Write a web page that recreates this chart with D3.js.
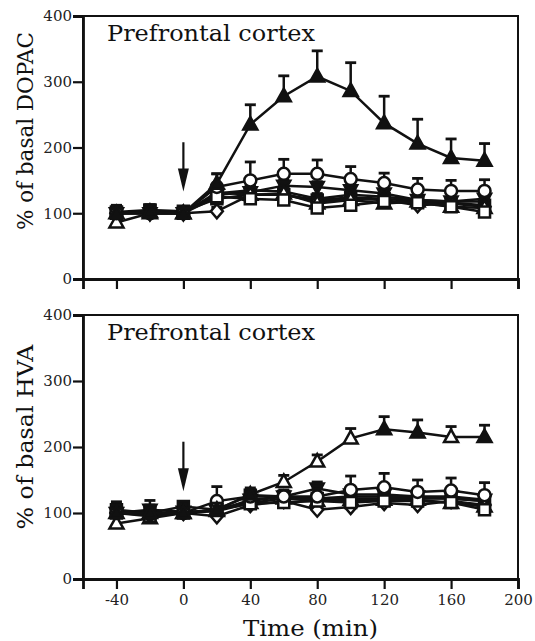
<!DOCTYPE html>
<html><head><meta charset="utf-8">
<script src="https://cdn.jsdelivr.net/npm/d3@7"></script>
<style>body{margin:0;background:#fff}</style>
</head><body><svg id="c" width="535" height="641"></svg>
<script>
const times = [-40,-20,0,20,40,60,80,100,120,140,160,180];
const xTicks = [-40,0,40,80,120,160,200];
const yTicks = [0,100,200,300,400];
const panelTitle = "Prefrontal cortex";
const yLabels = ["% of basal DOPAC","% of basal HVA"];
const xLabel = "Time (min)";
const arrowStart = 208, arrowTip = 133, arrowTime = 0;

// DOPAC panel
const dopacFilledTri    = [100,102,100,145,235,278,308,286,237,206,184,180];
const dopacFilledTriErr = [12,8,8,15,30,31,39,43,41,37,29,26];
const dopacCircle       = [100,100,100,140,150,160,160,152,146,136,134,134];
const dopacCircleErr    = [12,8,8,20,28,22,21,19,15,17,16,17];
const dopacOpenTri      = [86,100,100,132,128,130,115,120,115,118,110,108];
const dopacOpenTriErr   = [10,8,6,10,8,8,8,8,6,6,6,6];
const dopacSquare       = [100,104,100,125,122,120,108,112,118,116,110,102];
const dopacSquareErr    = [10,8,6,8,8,8,6,6,6,6,6,6];
const dopacDiamond      = [100,100,100,103,128,128,118,122,120,112,115,110];
const dopacDiamondErr   = [10,8,6,6,8,8,6,6,6,6,6,6];
const dopacAsterisk     = [100,100,100,130,135,133,122,128,125,120,118,118];
const dopacAsteriskErr  = [10,8,6,8,8,8,8,8,6,6,6,6];
const dopacFilledSq     = [102,105,103,122,128,128,120,124,122,118,116,112];
const dopacFilledSqErr  = [10,8,6,8,8,8,6,6,6,6,6,6];
const dopacInvTri       = [100,100,100,128,132,142,140,135,130,120,118,122];
const dopacInvTriErr    = [10,8,6,8,8,8,8,8,6,6,6,6];

// HVA panel
const hvaFilledTri    = [100,100,100,105,128,147,178,213,227,222,215,215];
const hvaFilledTriErr = [12,10,8,10,10,10,10,15,19,19,16,18];
const hvaOpenMarkerTimes = [60,80,100,160];
const hvaCircle       = [100,98,100,118,125,125,125,135,139,132,134,127];
const hvaCircleErr    = [12,10,8,22,10,10,12,21,21,18,19,19];
const hvaOpenTri      = [84,92,100,103,115,122,118,120,120,120,115,110];
const hvaOpenTriErr   = [10,10,6,6,6,6,6,6,6,6,6,6];
const hvaSquare       = [100,95,100,105,114,116,118,116,118,118,116,105];
const hvaSquareErr    = [10,10,6,6,6,6,6,6,6,6,6,6];
const hvaDiamond      = [100,97,100,95,112,118,105,109,115,112,118,112];
const hvaDiamondErr   = [10,10,6,6,6,6,6,6,6,6,6,6];
const hvaAsterisk     = [100,100,100,105,118,125,120,122,122,122,122,118];
const hvaAsteriskErr  = [10,10,6,6,6,6,6,6,6,6,6,6];
const hvaFilledSq     = [105,100,110,105,127,125,122,125,125,123,122,118];
const hvaFilledSqErr  = [12,12,6,6,8,6,6,6,6,6,6,6];
const hvaInvTri       = [100,105,102,103,120,125,137,128,128,125,125,120];
const hvaInvTriErr    = [12,14,6,6,6,6,10,8,8,8,8,8];

function series(vals, errs, marker){ return {vals, errs, marker}; }
const panels = [
  { top:16, bottom:279, ylabel:yLabels[0], showXLabels:false, openTimes:[],
    titleY:41, ylabW:198, ylabC:131,
    series:[
      series(dopacInvTri,dopacInvTriErr,"invtri"),
      series(dopacFilledSq,dopacFilledSqErr,"fsquare"),
      series(dopacAsterisk,dopacAsteriskErr,"asterisk"),
      series(dopacDiamond,dopacDiamondErr,"diamond"),
      series(dopacOpenTri,dopacOpenTriErr,"otri"),
      series(dopacSquare,dopacSquareErr,"square"),
      series(dopacCircle,dopacCircleErr,"circle"),
      series(dopacFilledTri,dopacFilledTriErr,"ftri")
    ]},
  { top:315, bottom:579, ylabel:yLabels[1], showXLabels:true, openTimes:hvaOpenMarkerTimes,
    titleY:340, ylabW:185, ylabC:437,
    series:[
      series(hvaInvTri,hvaInvTriErr,"invtri"),
      series(hvaFilledSq,hvaFilledSqErr,"fsquare"),
      series(hvaAsterisk,hvaAsteriskErr,"asterisk"),
      series(hvaDiamond,hvaDiamondErr,"diamond"),
      series(hvaOpenTri,hvaOpenTriErr,"otri"),
      series(hvaSquare,hvaSquareErr,"square"),
      series(hvaCircle,hvaCircleErr,"circle"),
      series(hvaFilledTri,hvaFilledTriErr,"ftri")
    ]}
];

const svg = d3.select("#c");
const FONT = "DejaVu Serif";
const SW = 2.5;
const x = d3.scaleLinear().domain([-60,200]).range([83,518]);

function markerPath(type){
  switch(type){
    case "ftri": case "otri": return "M0,-7.5L7,5L-7,5Z";
    case "invtri": return "M0,7L6.5,-5L-6.5,-5Z";
    case "square": case "fsquare": return "M-5.5,-5.5H5.5V5.5H-5.5Z";
    case "diamond": return "M0,-7L6,0L0,7L-6,0Z";
    case "asterisk": return "M-5,-5L5,5M-5,5L5,-5M0,-6V6";
  }
  return null;
}

panels.forEach(p => {
  const y = d3.scaleLinear().domain([0,400]).range([p.bottom,p.top]);
  const g = svg.append("g");
  g.append("rect").attr("x",x(-60)).attr("y",p.top).attr("width",x(200)-x(-60)).attr("height",p.bottom-p.top)
    .attr("fill","none").attr("stroke","#111").attr("stroke-width",2);
  const ya = g.append("g").attr("transform",`translate(${x(-60)},0)`)
    .call(d3.axisLeft(y).tickValues(yTicks).tickSize(10).tickPadding(1).tickFormat(d => String(d)));
  ya.select(".domain").attr("stroke","#111").attr("stroke-width",2.8);
  ya.selectAll(".tick line").attr("stroke","#111").attr("stroke-width",2.2);
  ya.selectAll(".tick text").attr("font-family",FONT).attr("font-size",15).attr("fill","#222");
  const xa = g.append("g").attr("transform",`translate(0,${p.bottom})`)
    .call(d3.axisBottom(x).tickValues(xTicks).tickSize(10).tickPadding(5).tickFormat(p.showXLabels? (d => String(d)) : ""));
  xa.select(".domain").attr("stroke","#111").attr("stroke-width",2.8);
  xa.selectAll(".tick line").attr("stroke","#111").attr("stroke-width",2.2);
  xa.selectAll(".tick text").attr("font-family",FONT).attr("font-size",15).attr("fill","#222");
  g.append("text").attr("x",107).attr("y",p.titleY).attr("font-family",FONT).attr("font-size",23)
    .attr("fill","#111").attr("textLength",208).attr("lengthAdjust","spacingAndGlyphs").text(panelTitle);
  g.append("text").attr("transform",`translate(33,${p.ylabC}) rotate(-90)`).attr("text-anchor","middle")
    .attr("font-family",FONT).attr("font-size",23).attr("fill","#111")
    .attr("textLength",p.ylabW).attr("lengthAdjust","spacingAndGlyphs").text(p.ylabel);
  const ax = x(arrowTime), tipY = y(arrowTip);
  g.append("line").attr("x1",ax).attr("x2",ax).attr("y1",y(arrowStart)).attr("y2",tipY-18)
    .attr("stroke","#111").attr("stroke-width",2.2);
  g.append("path").attr("d",`M${ax},${tipY}L${ax-5.5},${tipY-23}L${ax+5.5},${tipY-23}Z`).attr("fill","#111");
  const line = d3.line().x((d,i)=>x(times[i])).y(d=>y(d));
  p.series.forEach(s => {
    const sg = g.append("g");
    sg.append("path").attr("d",line(s.vals)).attr("fill","none").attr("stroke","#111").attr("stroke-width",SW);
    s.vals.forEach((v,i)=>{
      const cx = x(times[i]);
      sg.append("line").attr("x1",cx).attr("x2",cx).attr("y1",y(v)).attr("y2",y(v+s.errs[i]))
        .attr("stroke","#111").attr("stroke-width",SW);
      sg.append("line").attr("x1",cx-5.5).attr("x2",cx+5.5).attr("y1",y(v+s.errs[i])).attr("y2",y(v+s.errs[i]))
        .attr("stroke","#111").attr("stroke-width",2.8);
    });
    s.vals.forEach((v,i)=>{
      const cx = x(times[i]), cy = y(v);
      const t = s.marker;
      if(t==="circle"){
        sg.append("circle").attr("cx",cx).attr("cy",cy).attr("r",6).attr("fill","#fff").attr("stroke","#111").attr("stroke-width",SW);
        return;
      }
      let filled = (t==="ftri"||t==="fsquare"||t==="invtri");
      if(t==="ftri" && p.openTimes.includes(times[i])) filled = false;
      const path = sg.append("path").attr("d",markerPath(t)).attr("transform",`translate(${cx},${cy})`)
        .attr("stroke","#111").attr("stroke-width",SW).attr("stroke-linejoin","miter");
      if(t==="asterisk") path.attr("fill","none");
      else path.attr("fill", filled ? "#111" : "#fff");
    });
  });
});

svg.append("text").attr("x",243).attr("y",636).attr("font-family",FONT).attr("font-size",23).attr("fill","#111")
  .attr("textLength",135).attr("lengthAdjust","spacingAndGlyphs").text(xLabel);
</script>
</body></html>
